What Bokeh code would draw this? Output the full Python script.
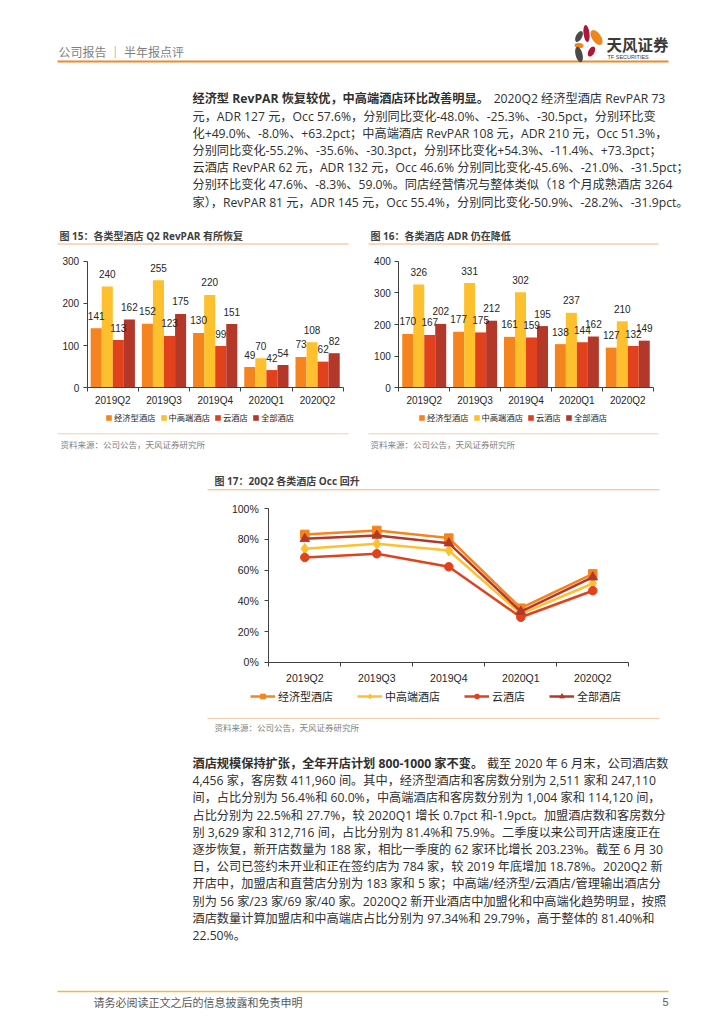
from bokeh.plotting import figure
from bokeh.models import (Range1d, ColumnDataSource, Legend, LegendItem, LinearAxis,
                          FixedTicker, NumeralTickFormatter)
from bokeh.embed import file_html
from bokeh.resources import INLINE
from bokeh.core.properties import value
from bokeh.transform import dodge

# ---------------- data ----------------
quarters = ["2019Q2", "2019Q3", "2019Q4", "2020Q1", "2020Q2"]
series_names = ["经济型酒店", "中高端酒店", "云酒店", "全部酒店"]

revpar_economy = [141, 152, 130, 49, 73]
revpar_midhigh = [240, 255, 220, 70, 108]
revpar_cloud = [113, 123, 99, 42, 62]
revpar_all = [162, 175, 151, 54, 82]

adr_economy = [170, 177, 161, 138, 127]
adr_midhigh = [326, 331, 302, 237, 210]
adr_cloud = [167, 175, 159, 144, 132]
adr_all = [202, 212, 195, 162, 149]

occ_economy = [0.833, 0.859, 0.809, 0.352, 0.576]
occ_midhigh = [0.739, 0.772, 0.728, 0.315, 0.513]
occ_cloud = [0.683, 0.707, 0.622, 0.293, 0.466]
occ_all = [0.804, 0.826, 0.776, 0.330, 0.554]

revpar_ticks = [0, 100, 200, 300]
adr_ticks = [0, 100, 200, 300, 400]
occ_ticks = [0, 0.2, 0.4, 0.6, 0.8, 1.0]

colors = ["#F5841F", "#FEC02C", "#E2411E", "#B4382A"]
markers = ["square", "diamond", "circle", "triangle"]

header_text = "公司报告 ｜ 半年报点评"
title15 = "图 15：各类型酒店 Q2 RevPAR 有所恢复"
title16 = "图 16：各类酒店 ADR 仍在降低"
title17 = "图 17：20Q2 各类酒店 Occ 回升"
source_text = "资料来源：公司公告，天风证券研究所"
footer_text = "请务必阅读正文之后的信息披露和免责申明"
page_number = "5"

para1_bold = "经济型 RevPAR 恢复较优，中高端酒店环比改善明显。"
para1_lines = [
    "2020Q2 经济型酒店 RevPAR  73",
    "元，ADR 127 元，Occ 57.6%，分别同比变化-48.0%、-25.3%、-30.5pct，分别环比变",
    "化+49.0%、-8.0%、+63.2pct；中高端酒店 RevPAR 108 元，ADR 210 元，Occ 51.3%，",
    "分别同比变化-55.2%、-35.6%、-30.3pct，分别环比变化+54.3%、-11.4%、+73.3pct；",
    "云酒店 RevPAR 62 元，ADR 132 元，Occ 46.6% 分别同比变化-45.6%、-21.0%、-31.5pct；",
    "分别环比变化 47.6%、-8.3%、59.0%。同店经营情况与整体类似（18 个月成熟酒店 3264",
    "家），RevPAR 81 元，ADR 145 元，Occ 55.4%，分别同比变化-50.9%、-28.2%、-31.9pct。",
]
para2_bold = "酒店规模保持扩张，全年开店计划 800-1000 家不变。"
para2_lines = [
    "截至 2020 年 6 月末，公司酒店数",
    "4,456 家，客房数 411,960 间。其中，经济型酒店和客房数分别为 2,511 家和 247,110",
    "间，占比分别为 56.4%和 60.0%，中高端酒店和客房数分别为 1,004 家和 114,120 间，",
    "占比分别为 22.5%和 27.7%，较 2020Q1 增长 0.7pct 和-1.9pct。加盟酒店数和客房数分",
    "别 3,629 家和 312,716 间，占比分别为 81.4%和 75.9%。二季度以来公司开店速度正在",
    "逐步恢复，新开店数量为 188 家，相比一季度的 62 家环比增长 203.23%。截至 6 月 30",
    "日，公司已签约未开业和正在签约店为 784 家，较 2019 年底增加 18.78%。2020Q2 新",
    "开店中，加盟店和直营店分别为 183 家和 5 家；中高端/经济型/云酒店/管理输出酒店分",
    "别为 56 家/23 家/69 家/40 家。2020Q2 新开业酒店中加盟化和中高端化趋势明显，按照",
    "酒店数量计算加盟店和中高端店占比分别为  97.34%和  29.79%，高于整体的  81.40%和",
    "22.50%。",
]

# ---------------- page figure ----------------
W, H = 724, 1024
CJK = "Noto Sans CJK SC"
BODY = "Open Sans, Noto Sans CJK SC"
NUM = "Liberation Sans"
TEXT_COLOR = "#303030"
LINE_SPACING = 17.2
PARA_FS = "12.2px"

p = figure(width=W, height=H, x_range=Range1d(0, W), y_range=Range1d(H, 0),
           x_axis_type=None, y_axis_type=None, output_backend="svg",
           toolbar_location=None, min_border=0, outline_line_color=None,
           background_fill_color="white", border_fill_color="white")


def put_text(x, y, txt, size, color=TEXT_COLOR, bold=False, align="left", font=BODY):
    p.text(x=[x], y=[y], text=[txt], text_font=value(font), text_font_size=size,
           text_color=color, text_baseline="middle", text_align=align,
           text_font_style="bold" if bold else "normal")


def hline(x0, x1, y, color, w=1.0):
    p.line(x=[x0, x1], y=[y, y], line_color=color, line_width=w)


def paragraph(x0, x1, y0, bold_head, lines):
    put_text(x0, y0, bold_head, PARA_FS, bold=True)
    put_text(x1, y0, lines[0], PARA_FS, align="right")
    for k, ln in enumerate(lines[1:], start=1):
        put_text(x0, y0 + k * LINE_SPACING, ln, PARA_FS)


# header
put_text(58, 51, header_text, "12px", color="#7F7F7F", font=CJK)
hline(57, 668, 61, "#F08A24", 2)
p.ellipse(x=[586], y=[33], width=6, height=17, angle=0.12, fill_color="#AE1639", line_color=None)
p.ellipse(x=[596], y=[37], width=9, height=17, angle=0.6, fill_color="#F08519", line_color=None)
p.ellipse(x=[578.5], y=[36], width=6, height=12, angle=-0.5, fill_color="#4A4A4A", line_color=None)
p.ellipse(x=[578.5], y=[45], width=9, height=5, angle=-0.1, fill_color="#F08519", line_color=None)
p.ellipse(x=[578.5], y=[54], width=7, height=16, angle=0.25, fill_color="#4A4A4A", line_color=None)
p.ellipse(x=[591], y=[51], width=6, height=11, angle=-0.5, fill_color="#AE1639", line_color=None)
put_text(606, 43, "天风证券", "15.5px", color="#3A3A3A", bold=True, font=CJK)
put_text(607, 56, "TF SECURITIES", "5.5px", color="#3A3A3A", font=NUM)

# paragraphs
paragraph(192, 668, 98.3, para1_bold, para1_lines)
paragraph(192, 668, 763, para2_bold, para2_lines)

# figure titles, rules and sources
put_text(59, 235, title15, "10px", color="#404040", bold=True)
put_text(370, 235, title16, "10px", color="#404040", bold=True)
put_text(214, 480.3, title17, "10px", color="#404040", bold=True)
hline(57, 348, 243.5, "#F6B27A")
hline(368, 658, 243.5, "#F6B27A")
hline(207, 659, 489.3, "#F6B27A")
hline(57, 348, 433.3, "#F9CCA5")
hline(368, 658, 433.3, "#F9CCA5")
hline(207, 659, 718, "#F9CCA5")
put_text(60, 443, source_text, "8.5px", color="#7F7F7F", font=CJK)
put_text(370, 443, source_text, "8.5px", color="#7F7F7F", font=CJK)
put_text(214, 726.5, source_text, "8.5px", color="#7F7F7F", font=CJK)

# footer
hline(57, 668, 991, "#F5B942", 1.5)
put_text(93, 1001, footer_text, "11px", color="#595959", font=CJK)
put_text(668, 1001, page_number, "11px", color="#595959", align="right", font=NUM)

# ---------------- chart helpers ----------------
ncat = len(quarters)
centers = [i + 0.5 for i in range(ncat)]
x_ranges, y_ranges = {}, {}


def chart_ranges(name, x0_px, x1_px, y0_px, y1_px, ymax):
    """category axis 0..ncat spans x0_px..x1_px; value 0..ymax spans y0_px..y1_px (page px)."""
    sx = (x1_px - x0_px) / ncat
    sy = (y0_px - y1_px) / ymax
    x_ranges[name] = Range1d(-x0_px / sx, (W - x0_px) / sx)
    y_ranges[name] = Range1d(-(H - y0_px) / sy, y0_px / sy)


def chart_axes(name, ticks, ymax, font_size, fmt=None, y_standoff=4, x_standoff=7):
    common = dict(x_range_name=name, y_range_name=name, fixed_location=0,
                  axis_line_color="#404040", major_tick_line_color="#404040",
                  minor_tick_line_color=None, major_label_text_font=NUM,
                  major_label_text_font_size=font_size, major_label_text_color="#262626",
                  major_tick_in=0)
    yax = LinearAxis(bounds=(0, ymax), ticker=FixedTicker(ticks=ticks), major_tick_out=4,
                     major_label_standoff=y_standoff, **common)
    if fmt is not None:
        yax.formatter = fmt
    p.add_layout(yax, "left")
    bnd = list(range(ncat + 1))
    xb = LinearAxis(bounds=(0, ncat), ticker=FixedTicker(ticks=bnd), major_tick_out=4,
                    major_label_overrides={b: "" for b in bnd}, **common)
    p.add_layout(xb, "below")
    xl = LinearAxis(bounds=(0, ncat), ticker=FixedTicker(ticks=centers), major_tick_out=0,
                    major_label_overrides={c: q for c, q in zip(centers, quarters)},
                    major_label_standoff=x_standoff, **common)
    xl.axis_line_color = None
    xl.major_tick_line_color = None
    p.add_layout(xl, "below")


def bar_chart(name, series, legend_xy):
    data = dict(xc=centers)
    for i, vals in enumerate(series):
        data[f"v{i}"] = vals
        data[f"t{i}"] = [str(v) for v in vals]
    src = ColumnDataSource(data)
    bw = 0.216
    items = []
    for i, (lab, col) in enumerate(zip(series_names, colors)):
        r = p.vbar(x=dodge("xc", (i - 1.5) * bw), top=f"v{i}", bottom=0, width=bw,
                   source=src, fill_color=col, line_color=None,
                   x_range_name=name, y_range_name=name)
        items.append(LegendItem(label=lab, renderers=[r]))
    for i in range(len(series)):
        p.text(x=dodge("xc", (i - 1.5) * bw), y=f"v{i}", text=f"t{i}", source=src,
               text_font=value(NUM), text_font_size="10px", text_color="#262626",
               text_align="center", text_baseline="middle", y_offset=-12.5,
               x_range_name=name, y_range_name=name)
    leg = Legend(items=items, orientation="horizontal", location=legend_xy,
                 glyph_width=7, glyph_height=7, label_text_font_size="8.3px",
                 label_text_font=CJK, label_text_color="#262626", spacing=4,
                 padding=0, margin=0, border_line_color=None, background_fill_alpha=0,
                 label_standoff=2, label_height=10)
    p.add_layout(leg, "center")


# ---------------- figure 15 & 16: bars ----------------
chart_ranges("c15", 86.7, 342.7, 387.3, 260.7, 300)
chart_ranges("c16", 398.3, 652.7, 387.3, 260.7, 400)
chart_ranges("c17", 268.3, 628.3, 661.7, 508.3, 1.0)
p.extra_x_ranges = x_ranges
p.extra_y_ranges = y_ranges

bar_chart("c15", [revpar_economy, revpar_midhigh, revpar_cloud, revpar_all], (105, H - 423))
chart_axes("c15", revpar_ticks, 300, "10px")
bar_chart("c16", [adr_economy, adr_midhigh, adr_cloud, adr_all], (418, H - 423))
chart_axes("c16", adr_ticks, 400, "10px")

# ---------------- figure 17: lines ----------------
occ_src = ColumnDataSource(dict(xc=centers, s0=occ_economy, s1=occ_midhigh,
                                s2=occ_cloud, s3=occ_all))
sizes = {"square": 8.5, "diamond": 11, "circle": 8.5, "triangle": 9.5}
line_items = []
for i, (lab, col, mk) in enumerate(zip(series_names, colors, markers)):
    ln = p.line(x="xc", y=f"s{i}", source=occ_src, line_color=col, line_width=2.5,
                x_range_name="c17", y_range_name="c17")
    sc = p.scatter(x="xc", y=f"s{i}", source=occ_src, marker=mk, size=sizes[mk],
                   fill_color=col, line_color=col, x_range_name="c17", y_range_name="c17")
    line_items.append(LegendItem(label=lab, renderers=[ln, sc]))
chart_axes("c17", occ_ticks, 1.0, "10.5px", fmt=NumeralTickFormatter(format="0%"),
           y_standoff=6, x_standoff=10)
leg17 = Legend(items=line_items, orientation="horizontal", location=(250, H - 703.5),
               glyph_width=25, glyph_height=12, label_text_font_size="11px",
               label_text_font=CJK, label_text_color="#262626", spacing=24,
               padding=0, margin=0, border_line_color=None, background_fill_alpha=0,
               label_standoff=3, label_height=13)
p.add_layout(leg17, "center")

with open("out.html", "w") as fh:
    fh.write(file_html(p, INLINE))
